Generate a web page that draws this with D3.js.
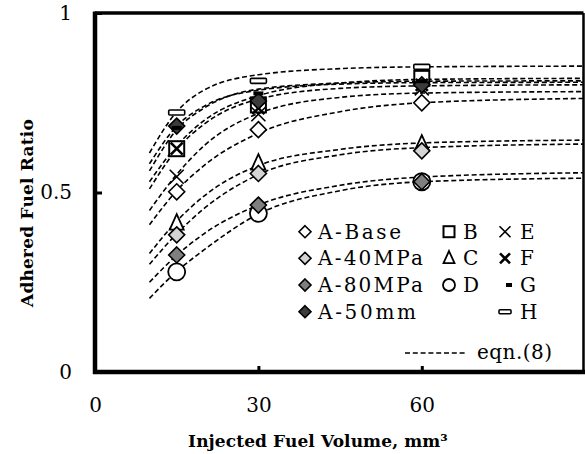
<!DOCTYPE html>
<html><head><meta charset="utf-8">
<script src="https://cdn.jsdelivr.net/npm/d3@7"></script>
<style>body{margin:0;background:#fff}svg{display:block}</style>
</head><body><svg id="c" width="585" height="454"></svg>
<script>
// ---- data ----
const xTicks = [0, 30, 60];
const yTicks = [0, 0.5, 1];
const yTickLabels = ["0", "0.5", "1"];
const injVol = [15, 30, 60];
const aBase = [0.502, 0.675, 0.750];
const a40MPa = [0.382, 0.553, 0.616];
const a80MPa = [0.326, 0.465, 0.530];
const a50mm = [0.685, 0.755, 0.800];
const bVals = [0.622, 0.744, 0.818];
const cVals = [0.414, 0.581, 0.634];
const dVals = [0.279, 0.442, 0.530];
const eVals = [0.544, 0.718, 0.790];
const fVals = [0.622, 0.735, 0.800];
const gVals = [0.680, 0.776, 0.810];
const hVals = [0.723, 0.811, 0.850];
// fitted curves eqn.(8), read at these volumes
const fitX = [10, 15, 20, 30, 45, 60, 90];
const fitH = [0.61, 0.725, 0.785, 0.828, 0.845, 0.850, 0.852];
const fitA50 = [0.58, 0.685, 0.740, 0.785, 0.802, 0.806, 0.807];
const fitG = [0.56, 0.675, 0.735, 0.788, 0.805, 0.810, 0.811];
const fitB = [0.53, 0.630, 0.700, 0.770, 0.805, 0.815, 0.818];
const fitF = [0.51, 0.620, 0.690, 0.760, 0.790, 0.797, 0.800];
const fitE = [0.45, 0.550, 0.630, 0.720, 0.765, 0.777, 0.781];
const fitBase = [0.41, 0.505, 0.575, 0.665, 0.725, 0.750, 0.762];
const fitC = [0.33, 0.420, 0.490, 0.575, 0.620, 0.638, 0.646];
const fitA40 = [0.30, 0.385, 0.455, 0.550, 0.605, 0.625, 0.635];
const fitA80 = [0.25, 0.325, 0.385, 0.465, 0.520, 0.543, 0.555];
const fitD = [0.205, 0.280, 0.340, 0.440, 0.505, 0.530, 0.540];

// ---- chart ----
const svg = d3.select("#c");
const x = d3.scaleLinear().domain([0, 90]).range([95, 585.2]);
const y = d3.scaleLinear().domain([0, 1]).range([372, 13]);
const X0 = x(0), X1 = 583.5, Y0 = y(0), Y1 = y(1);
const FONT = "'DejaVu Serif', serif";

svg.append("clipPath").attr("id", "clip").append("rect")
  .attr("x", X0).attr("y", Y1).attr("width", X1 - X0).attr("height", Y0 - Y1);

// curves
const line = d3.line().x((d, i) => x(fitX[i])).y(d => y(d)).curve(d3.curveMonotoneX);
const fits = [fitH, fitA50, fitG, fitB, fitF, fitE, fitBase, fitC, fitA40, fitA80, fitD];
svg.append("g").attr("clip-path", "url(#clip)").selectAll("path").data(fits).join("path")
  .attr("d", line).attr("fill", "none").attr("stroke", "#000")
  .attr("stroke-width", 1.6).attr("stroke-dasharray", "5,2.8");

// marker drawers
function diamond(g, cx, cy, r, fill) {
  g.append("path").attr("d", `M${cx},${cy - r}L${cx + r},${cy}L${cx},${cy + r}L${cx - r},${cy}Z`)
    .attr("fill", fill).attr("stroke", "#000").attr("stroke-width", 1.6);
}
function square(g, cx, cy, s) {
  g.append("rect").attr("x", cx - s / 2).attr("y", cy - s / 2).attr("width", s).attr("height", s)
    .attr("fill", "#fff").attr("stroke", "#000").attr("stroke-width", 2);
}
function triangle(g, cx, cy, s) {
  const h = s * 1.1;
  g.append("path").attr("d", `M${cx},${cy - h * 0.6}L${cx + s / 2},${cy + h * 0.4}L${cx - s / 2},${cy + h * 0.4}Z`)
    .attr("fill", "#fff").attr("stroke", "#000").attr("stroke-width", 1.8);
}
function circle(g, cx, cy, r) {
  g.append("circle").attr("cx", cx).attr("cy", cy).attr("r", r)
    .attr("fill", "#fff").attr("stroke", "#000").attr("stroke-width", 1.8);
}
function cross(g, cx, cy, r, w) {
  g.append("path").attr("d", `M${cx - r},${cy - r}L${cx + r},${cy + r}M${cx - r},${cy + r}L${cx + r},${cy - r}`)
    .attr("stroke", "#000").attr("stroke-width", w).attr("fill", "none");
}
function dash(g, cx, cy, w, h) {
  g.append("rect").attr("x", cx - w / 2).attr("y", cy - h / 2).attr("width", w).attr("height", h)
    .attr("fill", "#000");
}
function hbar(g, cx, cy, w, h) {
  g.append("rect").attr("x", cx - w / 2).attr("y", cy - h / 2).attr("width", w).attr("height", h)
    .attr("rx", 1).attr("fill", "#fff").attr("stroke", "#000").attr("stroke-width", 1.6);
}

const pts = svg.append("g");
const draw = (vals, fn) => vals.forEach((v, i) => fn(pts, x(injVol[i]), y(v)));
draw(dVals, (g, a, b) => circle(g, a, b, 8.5));
draw(cVals, (g, a, b) => triangle(g, a, b, 14));
draw(aBase, (g, a, b) => diamond(g, a, b, 8, "#fff"));
draw(a40MPa, (g, a, b) => diamond(g, a, b, 8, "#d4d4d4"));
draw(a80MPa, (g, a, b) => diamond(g, a, b, 8, "#7f7f7f"));
draw(bVals, (g, a, b) => square(g, a, b, 15));
draw(eVals, (g, a, b) => cross(g, a, b, 7, 1.6));
draw(fVals, (g, a, b) => cross(g, a, b, 6, 2.6));
draw(a50mm, (g, a, b) => diamond(g, a, b, 8, "#3c3c3c"));
draw(gVals, (g, a, b) => dash(g, a, b, 10, 4));
draw(hVals, (g, a, b) => hbar(g, a, b, 16, 5));

// frame & axes
svg.append("line").attr("x1", X0).attr("x2", X1).attr("y1", Y1).attr("y2", Y1).attr("stroke", "#000").attr("stroke-width", 3.5);
svg.append("line").attr("x1", X1).attr("x2", X1).attr("y1", Y1).attr("y2", Y0).attr("stroke", "#000").attr("stroke-width", 2.5);
const xAxis = svg.append("g").attr("transform", `translate(0,${Y0})`)
  .call(d3.axisBottom(x).tickValues(xTicks).tickSizeInner(-6).tickSizeOuter(0).tickPadding(26));
xAxis.select(".domain").attr("d", `M${X0 - 2},0H${X1 + 1.5}`).attr("stroke-width", 4.5);
xAxis.selectAll(".tick line").attr("stroke-width", 3);
xAxis.selectAll("text").attr("font-family", FONT).attr("font-size", 20).attr("fill", "#000");
const yAxis = svg.append("g").attr("transform", `translate(${X0},0)`)
  .call(d3.axisLeft(y).tickValues(yTicks).tickFormat((d, i) => yTickLabels[i]).tickSizeInner(-7).tickSizeOuter(0).tickPadding(23));
yAxis.select(".domain").attr("d", `M0,${Y0 + 2}V${Y1 - 1.5}`).attr("stroke-width", 4.5);
yAxis.selectAll(".tick line").attr("stroke-width", 3);
yAxis.selectAll("text").attr("font-family", FONT).attr("font-size", 20).attr("fill", "#000");

// titles
svg.append("text").attr("x", 318).attr("y", 447).attr("text-anchor", "middle")
  .attr("font-family", FONT).attr("font-weight", "bold").attr("font-size", 17)
  .attr("letter-spacing", 0.1).text("Injected Fuel Volume, mm³");
svg.append("text").attr("transform", "translate(33,213) rotate(-90)").attr("text-anchor", "middle")
  .attr("font-family", FONT).attr("font-weight", "bold").attr("font-size", 17)
  .attr("letter-spacing", 0.2).text("Adhered Fuel Ratio");

// legend
const lg = svg.append("g");
const rowY = [231.7, 258.3, 285, 311.7];
const legText = (tx, ty, t, len) => {
  const tt = lg.append("text").attr("x", tx).attr("y", ty + 7)
    .attr("font-family", FONT).attr("font-size", 20).attr("fill", "#000").text(t);
  if (len) tt.attr("textLength", len).attr("lengthAdjust", "spacing");
  return tt;
};
const legA = [["A-Base", "#fff", 83], ["A-40MPa", "#d4d4d4", 105], ["A-80MPa", "#7f7f7f", 105], ["A-50mm", "#3c3c3c", 98]];
legA.forEach((d, i) => { diamond(lg, 305, rowY[i], 6, d[1]); legText(318, rowY[i], d[0], d[2]); });
square(lg, 449, rowY[0], 11); legText(463, rowY[0], "B");
triangle(lg, 449, rowY[1], 11); legText(463, rowY[1], "C");
circle(lg, 449, rowY[2], 6); legText(463, rowY[2], "D");
cross(lg, 505, rowY[0], 5.5, 1.6); legText(520, rowY[0], "E");
cross(lg, 505, rowY[1], 5, 2.6); legText(520, rowY[1], "F");
dash(lg, 509, rowY[2], 6, 4); legText(520, rowY[2], "G");
hbar(lg, 505, rowY[3], 12, 4); legText(520, rowY[3], "H");
lg.append("line").attr("x1", 405).attr("x2", 465).attr("y1", 353).attr("y2", 353)
  .attr("stroke", "#000").attr("stroke-width", 1.6).attr("stroke-dasharray", "5,2.8");
legText(477, 353 - 1, "eqn.(8)", 75);
</script></body></html>
